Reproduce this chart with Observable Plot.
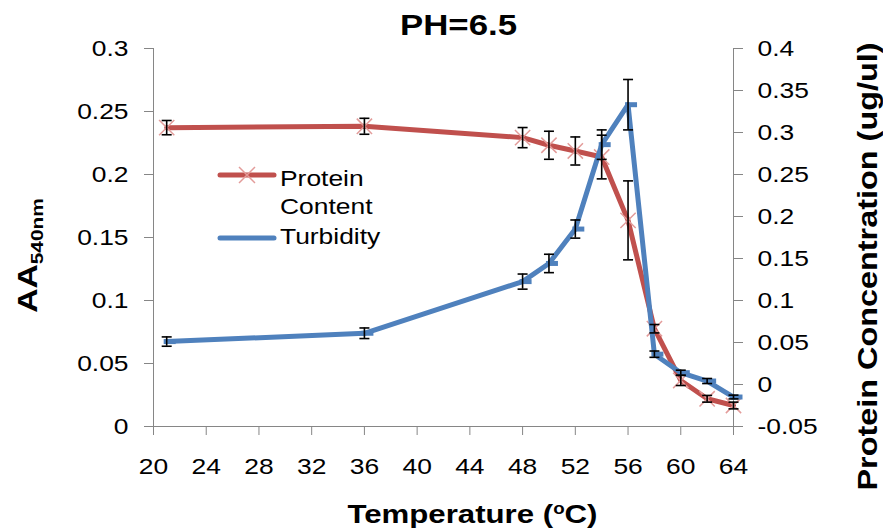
<!DOCTYPE html>
<html><head><meta charset="utf-8">
<script src="https://cdn.jsdelivr.net/npm/d3@7"></script>
<script src="https://cdn.jsdelivr.net/npm/@observablehq/plot@0.6"></script>
<style>
body{margin:0;background:#fff;}
#wrap{position:relative;width:883px;height:529px;font-family:"Liberation Sans",Arial,sans-serif;}
.leg{position:absolute;font-size:22px;line-height:22px;transform:scaleX(1.2);transform-origin:left center;white-space:nowrap;color:#000;}
.sw{position:absolute;}
</style></head><body>
<div id="wrap"></div>
<script>
// ---- data ----
const temps = [21, 36, 48, 50, 52, 54, 56, 58, 60, 62, 64];
const turbidity = [0.0674, 0.074, 0.115, 0.1294, 0.1567, 0.2237, 0.2554, 0.0574, 0.0427, 0.0361, 0.0234];
const turbidityErr = [0.0037, 0.0042, 0.006, 0.0073, 0.0072, 0.0117, 0.020, 0.0025, 0.002, 0.002, 0.0015];
const protein = [0.3058, 0.3074, 0.2939, 0.2848, 0.278, 0.2708, 0.1954, 0.0664, 0.0048, -0.017, -0.025];
const proteinErr = [0.0085, 0.0095, 0.012, 0.0167, 0.0167, 0.026, 0.047, 0.005, 0.006, 0.004, 0.004];
const xTicks = [20, 24, 28, 32, 36, 40, 44, 48, 52, 56, 60, 64];
const leftTicks = [0, 0.05, 0.1, 0.15, 0.2, 0.25, 0.3];
const rightTicks = [-0.05, 0, 0.05, 0.1, 0.15, 0.2, 0.25, 0.3, 0.35, 0.4];
const seriesNames = ["Protein Content", "Turbidity"];

const RED = "#C0504D", BLUE = "#4F81BD", GRAY = "#868686", XRED = "#E39C9A";
const leftDomain = [0, 0.3], rightDomain = [-0.05, 0.4];
const toL = v => (v - rightDomain[0]) / (rightDomain[1] - rightDomain[0]) * (leftDomain[1] - leftDomain[0]) + leftDomain[0];
const toR = v => (v - leftDomain[0]) / (leftDomain[1] - leftDomain[0]) * (rightDomain[1] - rightDomain[0]) + rightDomain[0];

const rows = temps.map((t, i) => ({
  t,
  turb: turbidity[i], turbLo: turbidity[i] - turbidityErr[i], turbHi: turbidity[i] + turbidityErr[i],
  prot: toL(protein[i]), protLo: toL(protein[i] - proteinErr[i]), protHi: toL(protein[i] + proteinErr[i])
}));
const caps = rows.flatMap(d => [{t: d.t, y: d.turbLo}, {t: d.t, y: d.turbHi}, {t: d.t, y: d.protLo}, {t: d.t, y: d.protHi}]);

const capSym = {draw(ctx) { ctx.moveTo(-5, 0); ctx.lineTo(5, 0); }};
const dashSym = {draw(ctx) { ctx.moveTo(-3, 0); ctx.lineTo(9, 0); }};

const chart = Plot.plot({
  width: 883, height: 529,
  marginLeft: 153, marginRight: 150, marginTop: 48, marginBottom: 103,
  style: {fontFamily: "'Liberation Sans', Arial, sans-serif", fontSize: "22px", color: "black", background: "white", overflow: "visible"},
  x: {domain: [20, 64]},
  y: {domain: leftDomain},
  marks: [
    Plot.ruleY([0], {stroke: GRAY}),
    Plot.ruleX([20], {stroke: GRAY}),
    Plot.ruleX([64], {stroke: GRAY}),
    Plot.axisX({ticks: xTicks, tickSize: 9, tickPadding: 23, stroke: GRAY, fontSize: 22, tickFormat: d => String(d), label: null}),
    Plot.axisY({anchor: "left", ticks: leftTicks, tickSize: 9, tickPadding: 16, stroke: GRAY, fontSize: 22, tickFormat: d => String(d), label: null}),
    Plot.axisY({anchor: "right", ticks: rightTicks.map(toL), tickSize: 9, tickPadding: 15, stroke: GRAY, fontSize: 22,
      tickFormat: d => String(+toR(d).toFixed(2)), label: null}),
    Plot.line(rows, {x: "t", y: "prot", stroke: RED, strokeWidth: 5}),
    Plot.dot(rows, {x: "t", y: "prot", symbol: "times", r: 7, stroke: XRED, strokeWidth: 1.5}),
    Plot.line(rows, {x: "t", y: "turb", stroke: BLUE, strokeWidth: 5}),
    Plot.dot(rows, {x: "t", y: "turb", symbol: dashSym, stroke: BLUE, strokeWidth: 5}),
    Plot.ruleX(rows, {x: "t", y1: "turbLo", y2: "turbHi", stroke: "black", strokeWidth: 1.6}),
    Plot.ruleX(rows, {x: "t", y1: "protLo", y2: "protHi", stroke: "black", strokeWidth: 1.6}),
    Plot.dot(caps, {x: "t", y: "y", symbol: capSym, stroke: "black", strokeWidth: 1.6}),
    Plot.text(["PH=6.5"], {text: d => d, frameAnchor: "top", textAnchor: "middle", lineAnchor: "middle", dx: 15, dy: -23, fontSize: 29, fontWeight: "bold"}),
    Plot.text(["Temperature (oC)"], {text: d => d, frameAnchor: "bottom", textAnchor: "middle", lineAnchor: "middle", dx: 29, dy: 88, fontSize: 26, fontWeight: "bold"}),
    Plot.text(["AA540nm"], {text: d => d, frameAnchor: "left", textAnchor: "middle", lineAnchor: "middle", dx: -125, dy: 18, rotate: -90, fontSize: 28, fontWeight: "bold"}),
    Plot.text(["Protein Concentration (ug/ul)"], {text: d => d, frameAnchor: "right", textAnchor: "middle", lineAnchor: "middle", dx: 135, dy: 29, rotate: -90, fontSize: 27, fontWeight: "bold"})
  ]
});

// rich text: subscript / superscript
const NS = "http://www.w3.org/2000/svg";
chart.querySelectorAll("text").forEach(t => {
  if (t.textContent === "AA540nm") {
    t.textContent = "";
    const a = document.createElementNS(NS, "tspan"); a.textContent = "AA"; t.appendChild(a);
    const b = document.createElementNS(NS, "tspan"); b.textContent = "540nm";
    b.setAttribute("font-size", "0.62em"); b.setAttribute("dy", "0.3em"); t.appendChild(b);
  } else if (t.textContent === "Temperature (oC)") {
    t.textContent = "";
    const a = document.createElementNS(NS, "tspan"); a.textContent = "Temperature ("; t.appendChild(a);
    const b = document.createElementNS(NS, "tspan"); b.textContent = "o";
    b.setAttribute("font-size", "0.6em"); b.setAttribute("dy", "-0.55em"); t.appendChild(b);
    const c = document.createElementNS(NS, "tspan"); c.textContent = "C)";
    c.setAttribute("dy", "0.33em"); t.appendChild(c);
  }
});
// widen glyphs horizontally (about each text's own anchor point), like the reference rendering
chart.querySelectorAll("text").forEach(t => {
  const xa = t.getAttribute("x");
  const x = (xa && /^-?[\d.]+$/.test(xa.trim())) ? +xa : 0;
  const tr = t.getAttribute("transform") || "";
  t.setAttribute("transform", `${tr} translate(${x},0) scale(1.2,1) translate(${-x},0)`);
});

const wrap = document.getElementById("wrap");
wrap.appendChild(chart);

// legend
function swatch(left, top, color, withX) {
  const s = document.createElementNS(NS, "svg");
  s.setAttribute("class", "sw"); s.setAttribute("width", 62); s.setAttribute("height", 22);
  s.style.left = left + "px"; s.style.top = top + "px";
  s.innerHTML = `<line x1="3" x2="57" y1="11" y2="11" stroke="${color}" stroke-width="5" stroke-linecap="round"/>` +
    (withX ? `<path d="M22,3L38,19M38,3L22,19" stroke="${XRED}" stroke-width="1.5"/>` : "");
  wrap.appendChild(s);
}
function label(txt, left, top) {
  const d = document.createElement("div"); d.className = "leg"; d.textContent = txt;
  d.style.left = left + "px"; d.style.top = top + "px"; wrap.appendChild(d);
}
swatch(217, 164, RED, true);
label("Protein", 280, 168);
label("Content", 280, 196);
swatch(217, 227, BLUE, false);
label(seriesNames[1], 280, 226);
</script>
</body></html>
